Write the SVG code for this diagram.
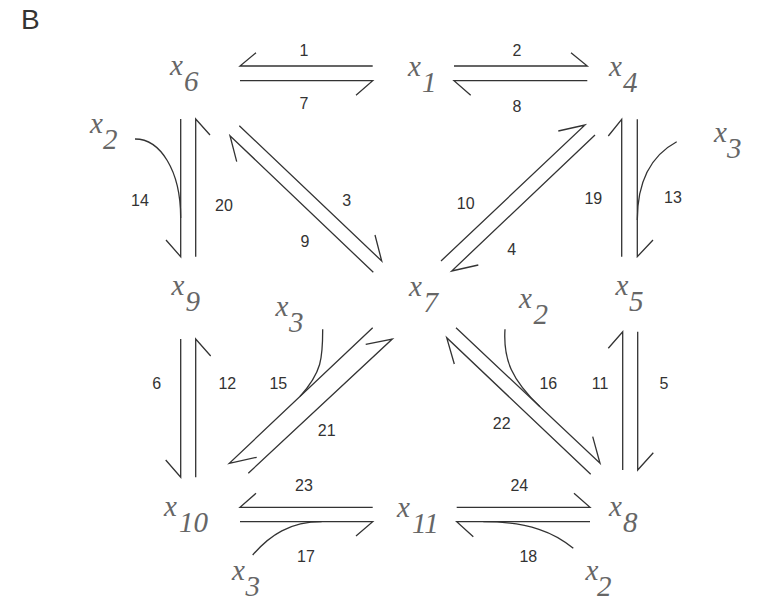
<svg xmlns="http://www.w3.org/2000/svg" width="758" height="603" viewBox="0 0 758 603">
<style>
.v{font-family:"Liberation Serif","Times New Roman",serif;font-style:italic;font-size:29px;fill:#666}
.n{font-family:"Liberation Sans",Arial,sans-serif;font-size:16px;fill:#333;text-anchor:middle}
.c path{fill:none;stroke:#333;stroke-width:1.3;stroke-linejoin:miter}
.p{font-family:"Liberation Sans",Arial,sans-serif;font-size:28px;fill:#333}
</style>
<rect width="758" height="603" fill="#fff"/>
<text class="p" x="21" y="29">B</text>
<g id="x6"><text class="v" x="170" y="75">x<tspan x="184" y="91">6</tspan></text></g>
<g id="x1"><text class="v" x="408" y="76">x<tspan x="422" y="92">1</tspan></text></g>
<g id="x4"><text class="v" x="609" y="76">x<tspan x="623" y="92">4</tspan></text></g>
<g id="x3a"><text class="v" x="714" y="142">x<tspan x="727" y="158">3</tspan></text></g>
<g id="x2a"><text class="v" x="90" y="133">x<tspan x="103" y="149">2</tspan></text></g>
<g id="x9"><text class="v" x="171.5" y="295">x<tspan x="185.5" y="311">9</tspan></text></g>
<g id="x7"><text class="v" x="409" y="296">x<tspan x="423.5" y="312">7</tspan></text></g>
<g id="x2b"><text class="v" x="519" y="308">x<tspan x="533.5" y="324">2</tspan></text></g>
<g id="x5"><text class="v" x="615.5" y="295">x<tspan x="629" y="311">5</tspan></text></g>
<g id="x3b"><text class="v" x="275.5" y="316">x<tspan x="289" y="332">3</tspan></text></g>
<g id="x10"><text class="v" x="164" y="516">x<tspan x="179" y="532">10</tspan></text></g>
<g id="x11"><text class="v" x="397" y="517">x<tspan x="412" y="533">11</tspan></text></g>
<g id="x8"><text class="v" x="609" y="516">x<tspan x="623" y="532">8</tspan></text></g>
<g id="x3c"><text class="v" x="232" y="580">x<tspan x="245.5" y="596">3</tspan></text></g>
<g id="x2c"><text class="v" x="585.5" y="580">x<tspan x="597" y="596">2</tspan></text></g>
<g id="connectors" class="c">
<path d="M372.7 66 L240 66 L256 52.7"/>
<path d="M240 80.7 L372.7 80.7 L356 95.3"/>
<path d="M454 66 L587.3 66 L571 52.7"/>
<path d="M587.3 80.7 L454 80.7 L470.7 95.3"/>
<path d="M180.7 119 L180.7 256.7 L166 240"/>
<path d="M195.7 256.7 L195.7 119 L210 135"/>
<path d="M239.3 125.7 L381.7 261 L375 235"/>
<path d="M373.3 272.3 L230 135.7 L236.7 161.7"/>
<path d="M441 261 L585 125 L558.3 131"/>
<path d="M595 135 L451.7 271 L478.3 265"/>
<path d="M621.7 256.7 L621.7 119.3 L608.3 136"/>
<path d="M637.3 119.3 L637.3 256.7 L653 240"/>
<path d="M180.7 339 L180.7 477.3 L165.7 460"/>
<path d="M195.7 477.3 L195.7 339 L210.7 356"/>
<path d="M372.7 327.7 L229.3 463.3 L256.7 457.3"/>
<path d="M248.3 473.3 L392.3 339 L365.7 344.3"/>
<path d="M456 327.7 L600 463.3 L592.7 436.7"/>
<path d="M590.7 474.3 L446.7 337.7 L454.3 364"/>
<path d="M622.7 470 L622.7 331.7 L608.3 348.3"/>
<path d="M637.7 331.7 L637.7 470 L653.3 452.7"/>
<path d="M372.7 507.3 L240 507.3 L256 493.3"/>
<path d="M240 521.7 L372.7 521.7 L356 536"/>
<path d="M456.7 507.3 L590 507.3 L574 493.3"/>
<path d="M590 521.7 L456.7 521.7 L473.3 536.7"/>
<path d="M135 139 C160 139 180.7 170 180.7 218"/>
<path d="M676.7 141.7 C652 155 637.3 180 637.3 220"/>
<path d="M322.7 329.3 C322.7 358 322 372 300 396.4"/>
<path d="M505 329.3 C503 360 512 380 540 406.8"/>
<path d="M252.7 555 C270 535 290 521.7 321.7 521.7"/>
<path d="M573.3 548.3 C555 533 530 521.7 483.3 521.7"/>
</g>
<g id="labels">
<text class="n" x="304" y="55.5">1</text>
<text class="n" x="304" y="108.5">7</text>
<text class="n" x="517" y="55.5">2</text>
<text class="n" x="517" y="112">8</text>
<text class="n" x="140" y="205.5">14</text>
<text class="n" x="224" y="210.5">20</text>
<text class="n" x="346.7" y="205.5">3</text>
<text class="n" x="305" y="247">9</text>
<text class="n" x="465.7" y="209">10</text>
<text class="n" x="511.7" y="255">4</text>
<text class="n" x="593.3" y="204">19</text>
<text class="n" x="673" y="202.5">13</text>
<text class="n" x="548.3" y="389">16</text>
<text class="n" x="600" y="388.5">11</text>
<text class="n" x="664" y="388.5">5</text>
<text class="n" x="501.7" y="429">22</text>
<text class="n" x="156.7" y="389">6</text>
<text class="n" x="227.3" y="388.5">12</text>
<text class="n" x="278.3" y="388.5">15</text>
<text class="n" x="326.7" y="435.5">21</text>
<text class="n" x="304" y="490.5">23</text>
<text class="n" x="306" y="561.5">17</text>
<text class="n" x="519.3" y="490.5">24</text>
<text class="n" x="528.3" y="561.5">18</text>
</g>
</svg>
